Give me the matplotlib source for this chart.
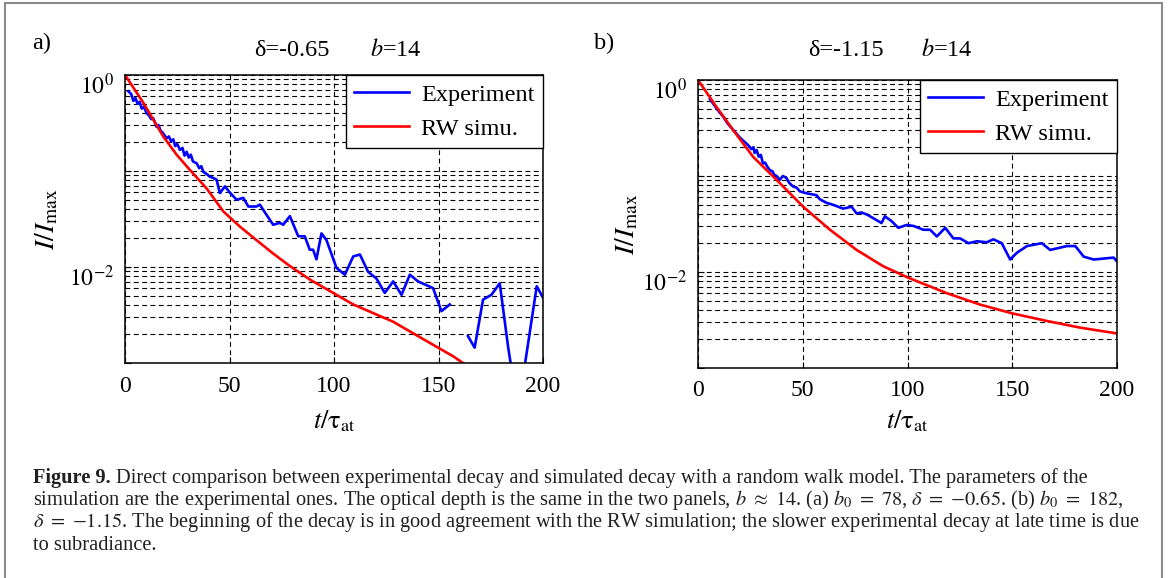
import numpy as np
import matplotlib
matplotlib.use("Agg")
import matplotlib.pyplot as plt
from matplotlib.lines import Line2D
from matplotlib.ticker import FixedLocator, NullFormatter
import matplotlib.transforms as mtransforms

plt.rcParams["font.family"] = ["Liberation Serif", "DejaVu Serif"]
plt.rcParams["mathtext.fontset"] = "stix"
plt.rcParams["lines.scale_dashes"] = False

# ---- data (log10 of I/Imax)
t_exp_a = [1.6, 3, 4, 5, 6, 7, 8, 9, 10.4, 11.5, 12.5, 13.5, 15.1, 16, 17, 18, 19.9, 21, 22, 23.1,
           24, 25, 26.3, 27.5, 28.5, 29.5, 30.5, 31.5, 32.5, 34.3, 35.5, 36.5, 37.5, 39, 40.6, 42,
           43.8, 45.4, 47.8, 50, 53.4, 56.6, 59, 62.9, 64.5, 67.5, 70.9, 74.1, 75.7, 78.9, 82.9,
           86, 88.4, 90, 91.6, 94, 96.4, 101.2, 105.2, 109.2, 112.4, 116.3, 120.3, 124.3, 128.3,
           132.3, 136.3, 140.2, 147.4, 151.4, 155.4, 159.7, 164.1, 167.3, 171.3, 175.3, 179.3,
           183.3, 188, 197, 200]
log_exp_a = [-0.17, -0.20, -0.27, -0.24, -0.30, -0.28, -0.35, -0.33, -0.40, -0.42, -0.46, -0.45,
             -0.54, -0.52, -0.58, -0.60, -0.66, -0.64, -0.69, -0.67, -0.74, -0.72, -0.78, -0.76,
             -0.84, -0.80, -0.86, -0.83, -0.90, -0.92, -0.97, -0.95, -1.01, -1.03, -1.06, -1.07,
             -1.09, -1.23, -1.16, -1.22, -1.30, -1.28, -1.37, -1.37, -1.35, -1.45, -1.56, -1.54,
             -1.56, -1.47, -1.68, -1.68, -1.82, -1.82, -1.92, -1.65, -1.72, -2.01, -2.08, -1.89,
             -1.87, -2.05, -2.12, -2.27, -2.15, -2.29, -2.08, -2.15, -2.22, -2.46, -2.39, np.nan,
             -2.72, -2.84, -2.34, -2.29, -2.17, -2.83, -3.5, -2.20, -2.32]

t_rw_a = [0, 8.8, 18.3, 24.7, 31.1, 39.0, 47.0, 55.0, 62.9, 70.9, 78.9, 88.4, 99.6, 109.2, 118.7,
          128.3, 137.8, 149.8, 157, 161.7, 166]
log_rw_a = [0, -0.29, -0.64, -0.83, -0.99, -1.18, -1.42, -1.58, -1.72, -1.86, -1.99, -2.13, -2.27,
            -2.39, -2.48, -2.57, -2.69, -2.84, -2.93, -3.0, -3.06]

t_exp_b = [5.7, 8, 10, 12, 14, 16, 18, 20, 22, 24, 25.5, 26.5, 27, 28, 29, 30, 31, 32, 33, 34.3,
           35.5, 36.5, 37.5, 39, 40.5, 42.2, 43.5, 45.4, 47, 48.6, 51.8, 56.6, 58, 61.4, 64.5,
           69.3, 73.3, 75.7, 78, 80.5, 83.7, 87.6, 89.2, 92.4, 95.6, 99.6, 102.8, 107.6, 110.8,
           114, 118, 121.9, 125.1, 129.1, 133.1, 137.9, 141, 145, 149, 152.2, 157, 164.1, 168.1,
           176.1, 180.1, 184.1, 188.9, 198.4, 200]
log_exp_b = [-0.20, -0.27, -0.33, -0.38, -0.45, -0.50, -0.55, -0.60, -0.64, -0.68, -0.72, -0.70,
             -0.76, -0.73, -0.80, -0.78, -0.87, -0.86, -0.90, -0.94, -0.95, -0.99, -1.00, -1.04,
             -1.00, -1.02, -1.07, -1.11, -1.12, -1.16, -1.18, -1.20, -1.24, -1.28, -1.30, -1.34,
             -1.32, -1.39, -1.38, -1.40, -1.44, -1.49, -1.42, -1.47, -1.54, -1.51, -1.52, -1.56,
             -1.56, -1.63, -1.54, -1.65, -1.65, -1.70, -1.68, -1.69, -1.66, -1.70, -1.87, -1.80,
             -1.73, -1.70, -1.77, -1.73, -1.73, -1.84, -1.87, -1.85, -1.89]

t_rw_b = [0, 8.8, 16.7, 26.3, 37.5, 50.2, 63, 75.7, 88.4, 100.4, 118.7, 134.7, 149.8, 166.5,
          182.5, 200]
log_rw_b = [0, -0.28, -0.52, -0.80, -1.04, -1.32, -1.56, -1.77, -1.94, -2.06, -2.22, -2.34,
            -2.43, -2.51, -2.58, -2.64]

panels = [
    ("a)", "-0.65", t_exp_a, log_exp_a, t_rw_a, log_rw_a),
    ("b)", "-1.15", t_exp_b, log_exp_b, t_rw_b, log_rw_b),
]
x_ticks = [0, 50, 100, 150, 200]

W, H = 1168, 578
fig = plt.figure(figsize=(W / 100, H / 100), dpi=100)

# axes boxes in pixels: left, top, right, bottom
boxes = [(125, 75, 543, 363), (698, 80, 1117, 368)]
# x positions in pixels: delta text, b text, panel label, ylabel anchor
text_x = [(292, 396, 42, 60), (846, 947, 604, 640)]

for (lab, delta, te, le, tr, lr), (l, t, r, b), (xd, xb, xl, xy) in zip(panels, boxes, text_x):
    ax = fig.add_axes([l / W, 1 - b / H, (r - l) / W, (b - t) / H])
    ax.plot(te, 10 ** np.array(le), color="#0000ff", lw=1.9, label="Experiment")
    ax.plot(tr, 10 ** np.array(lr), color="#ff0000", lw=1.9, label="RW simu.")
    ax.set_yscale("log")
    ax.set_xlim(0, 200)
    ax.set_ylim(1e-3, 1)

    ax.xaxis.set_major_locator(FixedLocator(x_ticks))
    ax.set_xticklabels([str(v) for v in x_ticks])
    ax.yaxis.set_major_locator(FixedLocator([1e-3, 1e-2, 1e-1, 1]))
    ax.set_yticklabels(["", r"$10^{-2}$", "", r"$10^{0}$"])
    minors = [m * 10.0 ** k for k in (-3, -2, -1) for m in range(2, 10)]
    ax.yaxis.set_minor_locator(FixedLocator(minors))
    ax.yaxis.set_minor_formatter(NullFormatter())

    ax.tick_params(axis="both", which="both", direction="in", labelsize=17, colors="black")
    ax.tick_params(axis="x", pad=9, length=4)
    ax.tick_params(axis="y", pad=8, length=4)
    ax.tick_params(axis="y", which="minor", length=3)
    # shift y labels down a bit like the original
    off = mtransforms.ScaledTranslation(0, -9 / 100, fig.dpi_scale_trans)
    for tl in ax.get_yticklabels():
        tl.set_transform(tl.get_transform() + off)

    ax.grid(True, which="both", axis="both", color="black", lw=0.8, linestyle=(0, (3.5, 2.5)))
    for s in ax.spines.values():
        s.set_linewidth(1.1)

    leg = ax.legend(loc="upper right", fancybox=False, edgecolor="black", framealpha=1,
                    borderaxespad=0, fontsize=17.5, handlelength=2.25, handletextpad=0.5,
                    labelspacing=0.5, borderpad=0.35)
    leg.get_frame().set_linewidth(1.0)

    ax.set_ylabel(r"$I/I_{\rm max}$", fontsize=20)
    ax.yaxis.set_label_coords((xy - l) / (r - l), 0.5)
    ax.text(0.5, (b - 428) / (b - t), r"$t/\mathrm{\tau}_{\rm at}$", transform=ax.transAxes,
            ha="center", va="baseline", fontsize=19)

    fig.text(xd / W, 1 - 50 / H, "\u03b4=" + delta, ha="center", va="center", fontsize=17.5)
    fig.text(xb / W, 1 - 50 / H, r"$b$=14", ha="center", va="center", fontsize=17.5)
    fig.text(xl / W, 1 - 43 / H, lab, ha="center", va="center", fontsize=17.5)

# ---- caption
cap_col = "#231f20"
cap_fs = 14.7
y_lines = [478, 500, 522, 545]
x0 = 33
bold = fig.text(x0 / W, 1 - y_lines[0] / H, "Figure 9.", fontsize=cap_fs, weight="bold",
                color=cap_col, va="center")
fig.canvas.draw()
bb = bold.get_window_extent()
fig.text((bb.x1 + 5) / W, 1 - y_lines[0] / H,
         "Direct comparison between experimental decay and simulated decay with a random walk "
         "model. The parameters of the", fontsize=cap_fs, color=cap_col, va="center")
fig.text(x0 / W, 1 - y_lines[1] / H,
         r"simulation are the experimental ones. The optical depth is the same in the two panels, "
         r"$b\ \approx\ 14$. (a) $b_0\ =\ 78$, $\delta\ =\ {-0.65}$. (b) $b_0\ =\ 182$,",
         fontsize=cap_fs, color=cap_col, va="center")
fig.text(x0 / W, 1 - y_lines[2] / H,
         r"$\delta\ =\ {-1.15}$. The beginning of the decay is in good agreement with the RW "
         r"simulation; the slower experimental decay at late time is due",
         fontsize=cap_fs, color=cap_col, va="center")
fig.text(x0 / W, 1 - y_lines[3] / H, "to subradiance.", fontsize=cap_fs, color=cap_col,
         va="center")

# ---- frame around the figure
fcol = "#8a8a8a"
fig.add_artist(Line2D([5 / W, 1162 / W], [1 - 3 / H, 1 - 3 / H], color=fcol, lw=1.5))
fig.add_artist(Line2D([5 / W, 5 / W], [0, 1 - 3 / H], color=fcol, lw=1.5))
fig.add_artist(Line2D([1162 / W, 1162 / W], [0, 1 - 3 / H], color=fcol, lw=1.5))

fig.savefig("out.png", dpi=100)
